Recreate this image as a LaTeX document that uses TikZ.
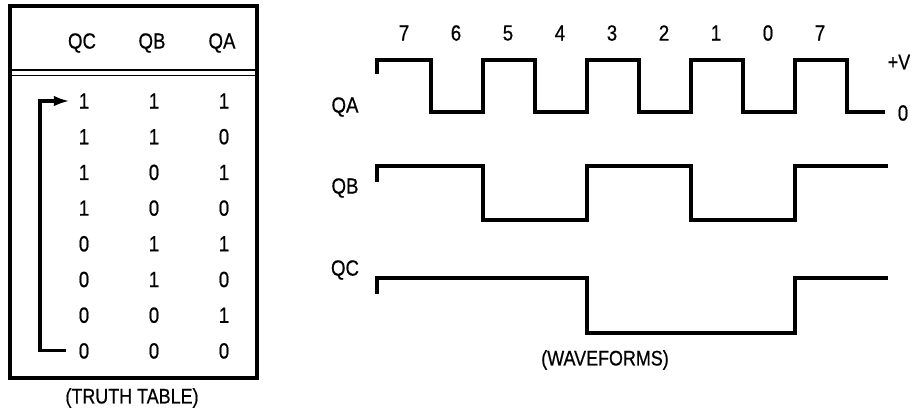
\documentclass[tikz,border=0pt]{standalone}
\usepackage{fontspec}
\setmainfont{Liberation Sans}[FakeStretch=0.85, FakeBold=0.6]
\usetikzlibrary{arrows.meta, positioning}

\begin{document}
\begin{tikzpicture}[
        x=0.02cm, y=-0.02cm,
        cell/.style={inner sep=0pt, font=\fontsize{12.5}{14}\selectfont},
        caption/.style={inner sep=0pt, font=\fontsize{12}{14}\selectfont},
        frame/.style={draw, line width=1.8pt},
        rule/.style={draw, line width=0.7pt},
        loopline/.style={draw, line width=1.8pt, -{Latex[length=9pt, width=6pt]},
            shorten <=7pt, shorten >=5pt},
        wave/.style={draw, line width=2.4pt, line join=miter}
    ]

    \useasboundingbox (0,0) rectangle (912,410);

    % truth table
    \draw[frame] (10,6) rectangle (257,378);
    \draw[rule] (10,70) -- (257,70);
    \draw[rule] (10,75.5) -- (257,75.5);

    \node[cell] (hC) at (82,43) {QC};
    \node[cell] (hB) at (152,43) {QB};
    \node[cell] (hA) at (222,43) {QA};

    \foreach \c/\b/\a [count=\i] in {1/1/1, 1/1/0, 1/0/1, 1/0/0, 0/1/1, 0/1/0, 0/0/1, 0/0/0} {
        \node[cell] (c\i) at (84, 101+35.7*\i-35.7) {\c};
        \node[cell] (b\i) at (154, 101+35.7*\i-35.7) {\b};
        \node[cell] (a\i) at (224, 101+35.7*\i-35.7) {\a};
    }

    \coordinate (back) at (40,0);
    \draw[loopline] (c8.west) -- (back |- c8.west) -- (back |- c1.west) -- (c1.west);

    \node[caption] (tt) at (132,398) {(TRUTH TABLE)};

    % waveforms
    \foreach \n [count=\k] in {7,6,5,4,3,2,1,0,7} {
        \node[cell] (n\k) at (404+52*\k-52, 33) {\n};
    }

    \node[cell] (lA) at (345,107) {QA};
    \node[cell] (lB) at (345,188) {QB};
    \node[cell] (lC) at (345,270) {QC};

    \draw[wave] (377,74) |- (431,60) |- (483,112) |- (535,60) |- (587,112) |- (639,60)
        |- (691,112) |- (743,60) |- (795,112) |- (847,60) |- (885,112);
    \draw[wave] (377,182) |- (483,166) |- (587,220) |- (691,166) |- (795,220) |- (888,166);
    \draw[wave] (377,294) |- (587,278) |- (795,333) |- (888,278);

    \node[caption] (pv) at (899,62) {+V};
    \node[cell] (zv) at (903,113) {0};

    \node[caption] (wf) at (605,360) {(WAVEFORMS)};
\end{tikzpicture}
\end{document}
